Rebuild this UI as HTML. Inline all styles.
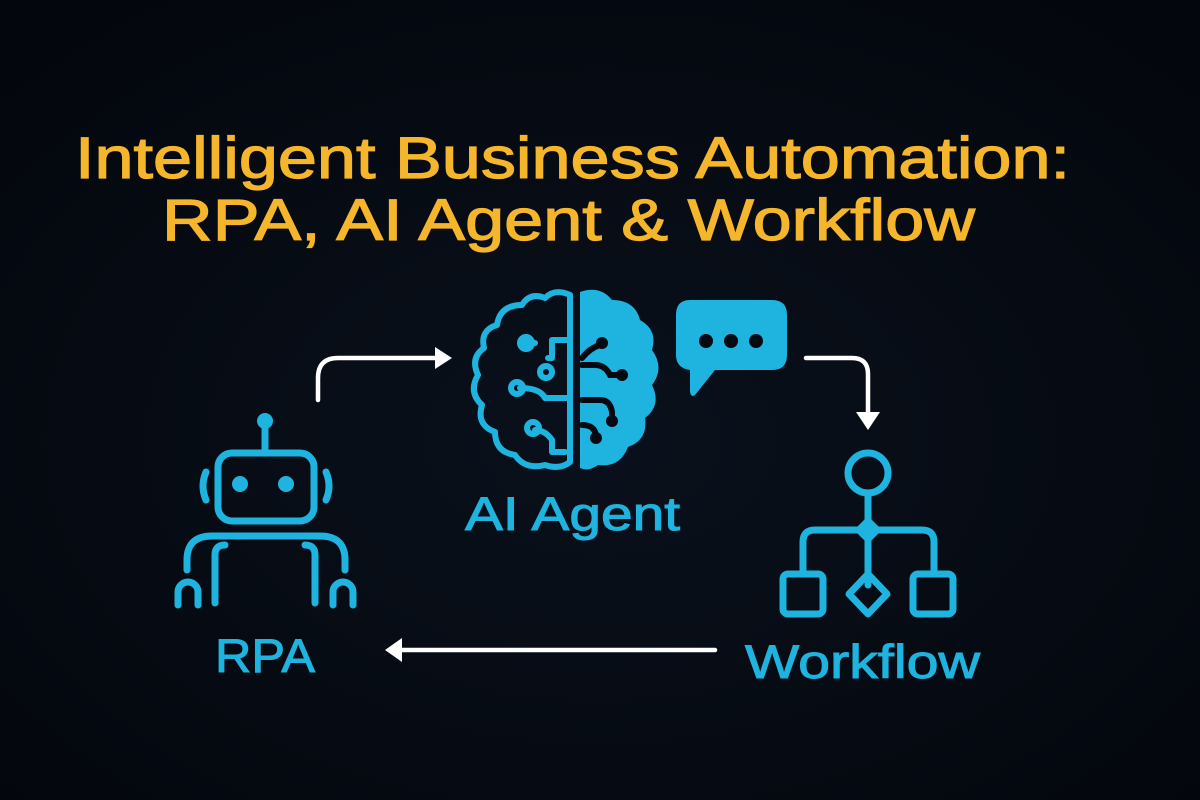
<!DOCTYPE html>
<html><head><meta charset="utf-8"><style>
html,body{margin:0;padding:0;background:#050912;}
svg{display:block}
</style></head><body>
<svg width="1200" height="800" viewBox="0 0 1200 800" xmlns="http://www.w3.org/2000/svg">
<defs>
<radialGradient id="bg" cx="50%" cy="55%" r="70%">
<stop offset="0" stop-color="#0a111c"/><stop offset="1" stop-color="#03060c"/>
</radialGradient>
</defs>
<rect width="1200" height="800" fill="url(#bg)"/>
<g font-family="Liberation Sans, sans-serif" fill="#f5b62c" stroke="#f5b62c" stroke-width="1.2" font-size="58">
<text x="75" y="178" textLength="995" lengthAdjust="spacingAndGlyphs">Intelligent Business Automation:</text>
<text x="162" y="240" textLength="813" lengthAdjust="spacingAndGlyphs">RPA, AI Agent &amp; Workflow</text>
</g>
<g font-family="Liberation Sans, sans-serif" fill="#1fb3df" stroke="#1fb3df" stroke-width="1" font-size="47">
<text x="465" y="530" textLength="215" lengthAdjust="spacingAndGlyphs">AI Agent</text>
<text x="215" y="672" textLength="100" lengthAdjust="spacingAndGlyphs">RPA</text>
<text x="745" y="678" textLength="235" lengthAdjust="spacingAndGlyphs">Workflow</text>
</g>
<!-- arrows -->
<g stroke="#fff" stroke-width="4.5" fill="none" stroke-linecap="round">
<path d="M318 400 V378 Q318 358 338 358 H435"/>
<path d="M806 358 H852 Q868 358 868 374 V412"/>
<path d="M715 650 H400"/>
</g>
<g fill="#fff">
<polygon points="435,347 452,358 435,369"/>
<polygon points="856,412 880,412 868,430"/>
<polygon points="402,638 385,650 402,662"/>
</g>
<!-- robot -->
<g stroke="#1fb3df" stroke-width="7" fill="none" stroke-linecap="round">
<circle cx="265" cy="421" r="8" fill="#1fb3df" stroke="none"/>
<line x1="265" y1="425" x2="265" y2="452"/>
<rect x="218" y="453" width="96" height="68" rx="14"/>
<path d="M206 472 Q200 486 206 500"/>
<path d="M326 472 Q332 486 326 500"/>
<path d="M187 570 V560 Q187 536 212 536 H320 Q345 536 345 560 V570"/>
<path d="M215 603 V555 Q215 545 225 545"/>
<path d="M315 603 V555 Q315 545 305 545"/>
<path d="M178 605 V592 A10 10 0 0 1 198 592 V605"/>
<path d="M333 605 V592 A10 10 0 0 1 353 592 V605"/>
</g>
<circle cx="240" cy="484" r="8" fill="#1fb3df"/>
<circle cx="286" cy="484" r="8" fill="#1fb3df"/>
<!-- brain -->
<g stroke="#1fb3df" stroke-width="6" fill="none" stroke-linecap="round" stroke-linejoin="round">
<path d="M570 295 Q555 288 545 298 Q530 292 522 305 Q500 305 497 325 Q480 330 484 348 Q470 358 478 375 Q468 392 482 405 Q476 425 495 432 Q495 452 515 455 Q525 470 545 465 Q560 470 570 462 Z"/>
<path d="M570 340 H552 V358 H548"/>
<circle cx="546" cy="372" r="6"/>
<path d="M520 343 H535"/><circle cx="526" cy="343" r="6"/>
<path d="M520 388 Q540 388 545 398 H570"/><circle cx="517" cy="388" r="6"/>
<path d="M535 430 Q545 430 552 440 V452 H565"/><circle cx="533" cy="428" r="6"/>
</g>
<path d="M580 292 Q600 285 612 300 Q635 300 640 320 Q658 330 652 350 Q665 368 652 385 Q662 405 645 418 Q648 440 628 447 Q620 468 598 465 Q588 472 580 468 Z" fill="#1fb3df"/>
<g stroke="#050912" stroke-width="6" fill="none" stroke-linecap="round">
<path d="M582 358 Q590 348 600 345"/>
<path d="M582 365 H595 Q605 365 610 375 H620"/>
<path d="M582 400 H600 Q610 400 612 412 V420"/>
<path d="M582 425 Q595 425 596 436"/>
</g>
<g fill="#050912"><circle cx="602" cy="343" r="6"/><circle cx="622" cy="375" r="6"/><circle cx="612" cy="421" r="6"/><circle cx="596" cy="438" r="6"/></g>
<!-- speech bubble -->
<path d="M690 300 H772 Q787 300 787 315 V355 Q787 370 772 370 H715 L695 395 Q690 398 690 390 V370 Q676 368 676 355 V315 Q676 300 690 300 Z" fill="#1fb3df"/>
<g fill="#050912"><circle cx="706" cy="341" r="7"/><circle cx="731" cy="341" r="7"/><circle cx="756" cy="341" r="7"/></g>
<!-- workflow -->
<g stroke="#1fb3df" stroke-width="7" fill="none" stroke-linejoin="round" stroke-linecap="round">
<circle cx="868" cy="473" r="20"/>
<line x1="868" y1="493" x2="868" y2="585"/>
<path d="M803 573 V542 Q803 530 815 530 H922 Q934 530 934 542 V573"/>
<rect x="783" y="574" width="40" height="40" rx="5"/>
<rect x="913" y="574" width="40" height="40" rx="5"/>
<polygon points="868,574 887,594 868,614 849,594"/>
</g>
<polygon points="868,516 882,530 868,544 854,530" fill="#1fb3df"/>
</svg>
</body></html>
